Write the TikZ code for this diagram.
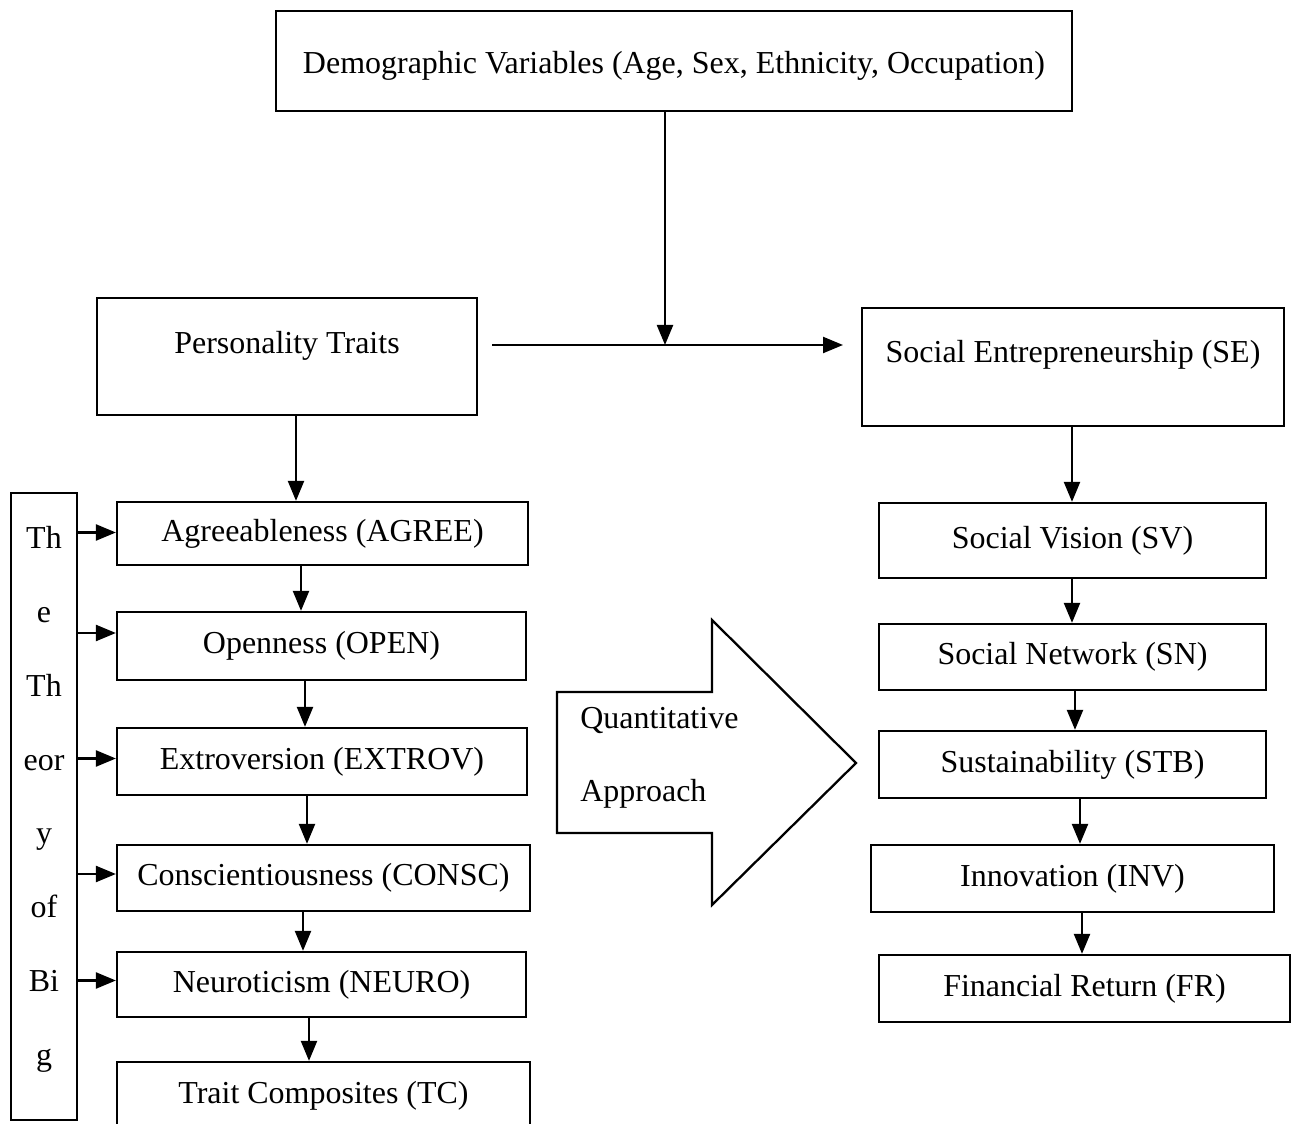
\documentclass[tikz,border=0pt]{standalone}
\usepackage{fontspec}
\setmainfont{Liberation Serif}
\usetikzlibrary{arrows.meta}

\begin{document}
\begin{tikzpicture}[x=0.02cm,y=-0.02cm,
    font=\fontsize{18.2}{22}\selectfont,
    box/.style={draw, line width=1.3pt, inner sep=0pt},
    arr/.style={-{Triangle[length=0.4cm,width=0.32cm]}, line width=1.3pt}]
        \clip (0,0) rectangle (1292,1124);
        % top and the two main boxes
        \node [box, anchor=north, minimum width=15.92cm, text height=1.24cm, text depth=0.76cm] (demo) at (674,10) {Demographic Variables (Age, Sex, Ethnicity, Occupation)};
        \node [box, anchor=north, minimum width=7.6cm, text height=1.1cm, text depth=1.24cm] (pers) at (287,297) {Personality Traits};
        \node [box, anchor=north, minimum width=8.44cm, text height=1.08cm, text depth=1.28cm] (se) at (1073,307) {Social Entrepreneurship (SE)};
        \coordinate (from) at (492,345);
        \coordinate (to) at (843,345);
        \coordinate (mid) at (665,345);
        \draw [arr] (from) -- (to);
        \draw [arr] (demo.south -| mid) -- (mid);
        % left column
        \node [box, minimum width=8.22cm, minimum height=1.26cm] (agree) at (322.5,533.5) {Agreeableness (AGREE)};
        \node [box, minimum width=8.18cm, minimum height=1.36cm] (open) at (321.5,646) {Openness (OPEN)};
        \node [box, minimum width=8.2cm, minimum height=1.34cm] (extrov) at (322,761.5) {Extroversion (EXTROV)};
        \node [box, minimum width=8.26cm, minimum height=1.32cm] (consc) at (323.5,878) {Conscientiousness (CONSC)};
        \node [box, minimum width=8.18cm, minimum height=1.3cm] (neuro) at (321.5,984.5) {Neuroticism (NEURO)};
        \node [box, minimum width=8.26cm, minimum height=1.36cm] (tc) at (323.5,1096) {Trait Composites (TC)};
        \node [box, minimum width=1.32cm, minimum height=12.54cm, align=center, text depth=0.42cm, font=\fontsize{18.2}{42}\selectfont] (theory) at (44,806.5) {Th\\e\\Th\\eor\\y\\of\\Bi\\g};
        \draw [arr] ([xshift=.18cm]pers.south) -- ([xshift=.18cm]pers.south |- agree.north);
        \draw [arr] (agree.south -| 301,0) -- (open.north -| 301,0);
        \draw [arr] (open.south -| 305,0) -- (extrov.north -| 305,0);
        \draw [arr] (extrov.south -| 307,0) -- (consc.north -| 307,0);
        \draw [arr] (consc.south -| 303,0) -- (neuro.north -| 303,0);
        \draw [arr] (neuro.south -| 309,0) -- (tc.north -| 309,0);
        \foreach \b/\s in {agree/-1, open/-13, extrov/-3, consc/-4, neuro/-4}
        {
            \path (\b.west) ++(0,\s) coordinate (t\b);
            \draw [arr] (theory.east |- t\b) -- (t\b);
        }
        % right column
        \node [box, minimum width=7.74cm, minimum height=1.5cm] (sv) at (1072.5,540.5) {Social Vision (SV)};
        \node [box, minimum width=7.74cm, minimum height=1.32cm] (sn) at (1072.5,657) {Social Network (SN)};
        \node [box, minimum width=7.74cm, minimum height=1.34cm] (stb) at (1072.5,764.5) {Sustainability (STB)};
        \node [box, minimum width=8.06cm, minimum height=1.34cm] (inv) at (1072.5,878.5) {Innovation (INV)};
        \node [box, minimum width=8.22cm, minimum height=1.34cm] (fr) at (1084.5,988.5) {Financial Return (FR)};
        \draw [arr] (se.south -| 1072,0) -- (sv.north -| 1072,0);
        \draw [arr] (sv.south -| 1072,0) -- (sn.north -| 1072,0);
        \draw [arr] (sn.south -| 1075,0) -- (stb.north -| 1075,0);
        \draw [arr] (stb.south -| 1080,0) -- (inv.north -| 1080,0);
        \draw [arr] (inv.south -| 1082,0) -- (fr.north -| 1082,0);
        % block arrow
        \draw [line width=1.3pt, line join=miter] (557,692) -- (712,692) -- (712,620) -- (856,763) -- (712,905) -- (712,833) -- (557,833) -- cycle;
        \node [anchor=west, align=left, inner sep=0pt, font=\fontsize{18.2}{41.5}\selectfont] (qa) at (580,757.5) {Quantitative\\Approach};
    \end{tikzpicture}
\end{document}
